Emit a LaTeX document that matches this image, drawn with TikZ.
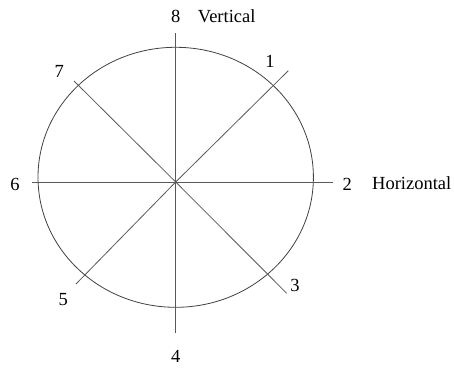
\documentclass[tikz,border=0pt]{standalone}
\usepackage{fontspec}
\setmainfont{Liberation Serif}
\begin{document}
\begin{tikzpicture}[x=1pt,y=-1pt,
  ln/.style={draw=black!65,line width=0.8pt},
  lbl/.style={inner sep=0pt,font=\fontsize{18.5}{20}\selectfont}]
\useasboundingbox (0,0) rectangle (454,369);
\coordinate (c) at (175.7,182);
\draw[ln,draw=black!75] (175.7,177.3) ellipse [x radius=137.7, y radius=130];
\coordinate (e8) at (175.7,33.3);
\coordinate (e4) at (175.7,333.3);
\coordinate (e6) at (32,182);
\coordinate (e2) at (332.5,182);
\coordinate (e1) at (288.3,70.7);
\coordinate (e5) at (76,284);
\coordinate (e7) at (74,81);
\coordinate (e3) at (286.7,293.3);
\draw[ln] (e8) -- (e4);
\draw[ln] (e6) -- (e2);
\draw[ln] (e1) -- (c) -- (e5);
\draw[ln] (e7) -- (c) -- (e3);
\node[lbl] (l8) at (175.7,16.7) {8};
\node[lbl] (lv) at (226.7,16.7) {Vertical};
\node[lbl] (l1) at (270,61.7) {1};
\node[lbl] (l7) at (59.3,71.7) {7};
\node[lbl] (l6) at (15,184) {6};
\node[lbl] (l2) at (347.3,184) {2};
\node[lbl] (lh) at (411.7,183.3) {Horizontal};
\node[lbl] (l3) at (295,285) {3};
\node[lbl] (l5) at (63.3,300) {5};
\node[lbl] (l4) at (175.7,356.7) {4};
\end{tikzpicture}
\end{document}
